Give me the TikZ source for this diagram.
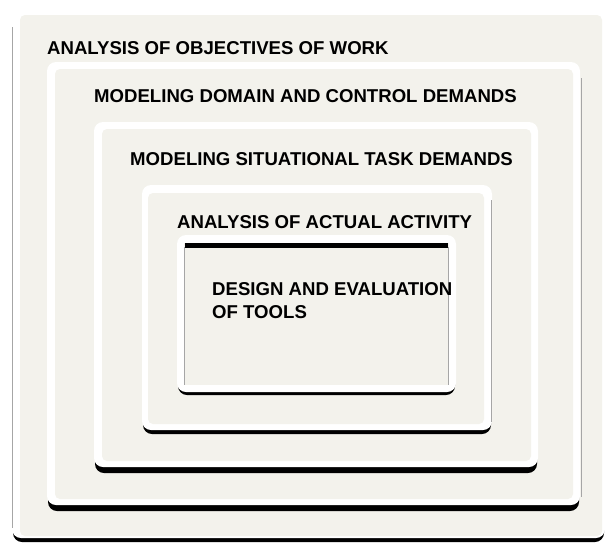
\documentclass[tikz,border=0pt]{standalone}
\usepackage{fontspec}
\setmainfont{Liberation Sans}
\usepackage{tikz}

\definecolor{paper}{RGB}{243,242,236}

\tikzset{
  shade/.style={fill=black, rounded corners=9pt},
  rim/.style={fill=white, rounded corners=9pt},
  inner/.style={fill=paper, rounded corners=5pt},
  edge/.style={draw=black!35, line width=0.5pt},
  level/.style={anchor=north west, inner sep=0pt, align=left, font=\bfseries\fontsize{18.6}{23}\selectfont}
}

\begin{document}
\begin{tikzpicture}[x=1pt, y=-1pt]
\useasboundingbox (0,0) rectangle (606,542);

% objectives of work
\fill[shade] (13,20) rectangle (604,542);
\fill[rim] (12,8) rectangle (605,538);
\fill[inner] (20,15) rectangle (602,536);
\draw[edge] (12,27) -- (12,528);

% domain and control demands
\fill[shade] (48,80) rectangle (579,511);
\fill[rim] (47,62) rectangle (580,505);
\fill[inner] (55,69) rectangle (573,499);
\draw[edge] (581,78) -- (581,497);

% situational task demands
\fill[shade] (95,140) rectangle (537,473);
\fill[rim] (94,122) rectangle (538,467);
\fill[inner] (102,129) rectangle (531,461);

% actual activity
\fill[shade] (143,200) rectangle (491,434);
\fill[rim] (142,185) rectangle (492,430);
\fill[inner] (148,193) rectangle (484,424);
\draw[edge] (491.5,200) -- (491.5,422);

% tools
\fill[shade] (178,250) rectangle (455,395);
\fill[rim] (177,235) rectangle (456,392);
\fill[paper] (184,243) rectangle (449,385);
\fill[black] (185,243) rectangle (448,247.5);
\draw[edge] (184.5,247) -- (184.5,385);
\draw[edge] (448.5,247) -- (448.5,385);

\node[level] (objectives) at (47,41) {ANALYSIS OF OBJECTIVES OF WORK};
\node[level] (domain) at (94,89) {MODELING DOMAIN AND CONTROL DEMANDS};
\node[level] (situation) at (130,152) {MODELING SITUATIONAL TASK DEMANDS};
\node[level] (activity) at (177,215) {ANALYSIS OF ACTUAL ACTIVITY};
\node[level] (tools) at (212,282) {DESIGN AND EVALUATION\\OF TOOLS};

\end{tikzpicture}
\end{document}
